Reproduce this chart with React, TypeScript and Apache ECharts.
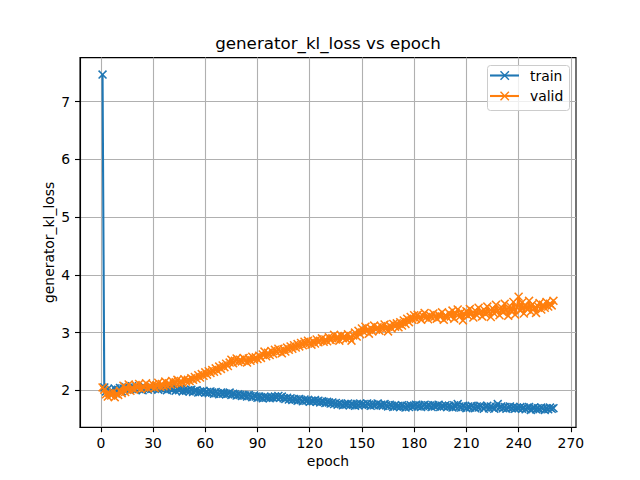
import React, { useEffect, useRef } from "react";
import * as echarts from "echarts";

const trainLoss: number[] = [
  7.47, 2.05, 1.98, 2.02, 1.96, 2.00, 1.94, 2.03, 1.99, 2.01,
  2.04, 1.98, 2.03, 2.06, 2.01, 2.05, 2.02, 2.07, 2.03, 2.01,
  2.05, 2.02, 2.04, 2.00, 2.06, 2.03, 2.01, 2.05, 2.02, 2.04,
  2.03, 2.06, 2.01, 2.04, 2.02, 2.05, 2.03, 2.00, 2.04, 2.02,
  2.01, 2.03, 1.99, 2.02, 2.00, 2.03, 1.98, 2.01, 1.99, 2.00,
  1.98, 2.01, 1.97, 1.99, 2.00, 1.96, 1.98, 1.97, 1.99, 1.96,
  1.97, 1.95, 1.98, 1.96, 1.94, 1.97, 1.95, 1.93, 1.96, 1.94,
  1.95, 1.93, 1.94, 1.96, 1.92, 1.94, 1.93, 1.91, 1.93, 1.92,
  1.90, 1.92, 1.91, 1.89, 1.92, 1.90, 1.88, 1.91, 1.89, 1.87,
  1.89, 1.88, 1.86, 1.89, 1.87, 1.88, 1.86, 1.88, 1.87, 1.89,
  1.88, 1.90, 1.87, 1.89, 1.86, 1.85, 1.87, 1.84, 1.86, 1.83,
  1.85, 1.84, 1.82, 1.85, 1.83, 1.81, 1.84, 1.82, 1.83, 1.80,
  1.82, 1.81, 1.83, 1.80, 1.82, 1.79, 1.81, 1.80, 1.78, 1.80,
  1.79, 1.77, 1.79, 1.76, 1.78, 1.75, 1.77, 1.76, 1.74, 1.76,
  1.75, 1.77, 1.74, 1.76, 1.75, 1.73, 1.76, 1.74, 1.77, 1.75,
  1.76, 1.74, 1.77, 1.75, 1.73, 1.76, 1.74, 1.75, 1.77, 1.74,
  1.75, 1.73, 1.76, 1.74, 1.72, 1.75, 1.73, 1.71, 1.74, 1.72,
  1.73, 1.71, 1.74, 1.72, 1.70, 1.73, 1.71, 1.74, 1.72, 1.73,
  1.75, 1.72, 1.74, 1.71, 1.73, 1.75, 1.72, 1.74, 1.73, 1.71,
  1.74, 1.72, 1.73, 1.75, 1.71, 1.73, 1.72, 1.74, 1.71, 1.73,
  1.72, 1.70, 1.74, 1.71, 1.76, 1.72, 1.70, 1.73, 1.71, 1.69,
  1.72, 1.70, 1.73, 1.71, 1.69, 1.72, 1.70, 1.73, 1.71, 1.68,
  1.71, 1.73, 1.69, 1.72, 1.70, 1.68, 1.71, 1.76, 1.70, 1.72,
  1.69, 1.71, 1.68, 1.70, 1.72, 1.69, 1.71, 1.68, 1.70, 1.69,
  1.71, 1.68, 1.70, 1.67, 1.69, 1.71, 1.66, 1.69, 1.70, 1.67,
  1.69, 1.67, 1.70, 1.68, 1.66, 1.69, 1.67, 1.70, 1.68, 1.69,
];

const validLoss: number[] = [
  2.05, 2.01, 1.93, 1.89, 1.95, 1.91, 1.97, 1.88, 1.94, 1.92,
  1.99, 1.95, 2.08, 1.97, 2.03, 2.10, 1.99, 2.05, 2.01, 2.09,
  2.04, 2.11, 2.02, 2.07, 2.05, 2.12, 2.03, 2.08, 2.06, 2.10,
  2.04, 2.09, 2.13, 2.06, 2.11, 2.07, 2.15, 2.08, 2.12, 2.10,
  2.16, 2.11, 2.14, 2.18, 2.12, 2.16, 2.13, 2.19, 2.15, 2.18,
  2.16, 2.21, 2.18, 2.23, 2.20, 2.26, 2.22, 2.28, 2.25, 2.31,
  2.27, 2.33, 2.30, 2.35, 2.32, 2.38, 2.34, 2.41, 2.37, 2.43,
  2.40, 2.46, 2.42, 2.48, 2.53, 2.47, 2.51, 2.55, 2.49, 2.53,
  2.50, 2.56, 2.52, 2.48, 2.55, 2.51, 2.58, 2.53, 2.57, 2.54,
  2.60, 2.56, 2.62, 2.67, 2.59, 2.65, 2.61, 2.68, 2.63, 2.70,
  2.66, 2.72, 2.68, 2.64, 2.71, 2.67, 2.74, 2.70, 2.76, 2.72,
  2.78, 2.74, 2.80, 2.76, 2.82, 2.78, 2.84, 2.80, 2.86, 2.82,
  2.79, 2.85, 2.81, 2.88, 2.83, 2.86, 2.90, 2.84, 2.88, 2.85,
  2.92, 2.87, 2.90, 2.96, 2.88, 2.93, 2.86, 2.95, 2.90, 2.94,
  2.89, 2.97, 2.91, 2.86, 2.95, 3.00, 2.93, 3.03, 2.97, 3.07,
  3.01, 3.10, 3.04, 2.98, 3.08, 3.02, 3.12, 3.05, 3.09, 3.03,
  3.11, 3.06, 3.14, 3.08, 3.02, 3.12, 3.07, 3.15, 3.10, 3.16,
  3.09, 3.18, 3.12, 3.21, 3.15, 3.24, 3.18, 3.27, 3.22, 3.30,
  3.24, 3.31, 3.26, 3.22, 3.29, 3.34, 3.27, 3.23, 3.30, 3.26,
  3.33, 3.28, 3.24, 3.31, 3.27, 3.35, 3.22, 3.30, 3.26, 3.34,
  3.28, 3.38, 3.24, 3.33, 3.40, 3.27, 3.35, 3.21, 3.32, 3.37,
  3.29, 3.41, 3.33, 3.26, 3.38, 3.30, 3.43, 3.35, 3.28, 3.40,
  3.32, 3.45, 3.36, 3.27, 3.42, 3.33, 3.48, 3.38, 3.30, 3.44,
  3.35, 3.50, 3.39, 3.29, 3.46, 3.36, 3.53, 3.31, 3.44, 3.62,
  3.38, 3.52, 3.33, 3.47, 3.40, 3.55, 3.36, 3.49, 3.42, 3.34,
  3.46, 3.51, 3.40, 3.48, 3.43, 3.53, 3.45, 3.50, 3.47, 3.55,
];

const firstEpoch = 1;
const xTicks: number[] = [0, 30, 60, 90, 120, 150, 180, 210, 240, 270];
const yTicks: number[] = [2, 3, 4, 5, 6, 7];
const seriesNames: string[] = ["train", "valid"];
const seriesColors: string[] = ["#1f77b4", "#ff7f0e"];

const X_MARK =
  "path://M0,1.2 L1.2,0 L5,3.8 L8.8,0 L10,1.2 L6.2,5 L10,8.8 L8.8,10 L5,6.2 L1.2,10 L0,8.8 L3.8,5 Z";

const FONT = "DejaVu Sans";

export default function App() {
  const ref = useRef<HTMLDivElement>(null);

  useEffect(() => {
    if (!ref.current) return;
    const chart = echarts.init(ref.current, undefined, { renderer: "svg" });

    const toPairs = (arr: number[]) => arr.map((v, i) => [i + firstEpoch, v]);
    const allSeries = [trainLoss, validLoss];

    const legendItems: any[] = [];
    legendItems.push({
      type: "rect",
      shape: { x: 487.5, y: 65.5, width: 82, height: 45, r: 3 },
      style: { fill: "rgba(255,255,255,0.8)", stroke: "#cccccc", lineWidth: 1 },
      z: 100,
    });
    seriesNames.forEach((name, i) => {
      const cy = 75.5 + i * 20.5;
      legendItems.push({
        type: "line",
        shape: { x1: 490, y1: cy, x2: 519, y2: cy },
        style: { stroke: seriesColors[i], lineWidth: 2.1 },
        z: 101,
      });
      legendItems.push({
        type: "line",
        shape: { x1: 500.5, y1: cy - 4.2, x2: 508.9, y2: cy + 4.2 },
        style: { stroke: seriesColors[i], lineWidth: 1.4 },
        z: 102,
      });
      legendItems.push({
        type: "line",
        shape: { x1: 500.5, y1: cy + 4.2, x2: 508.9, y2: cy - 4.2 },
        style: { stroke: seriesColors[i], lineWidth: 1.4 },
        z: 102,
      });
      legendItems.push({
        type: "text",
        x: 530,
        y: cy,
        style: {
          text: name,
          fill: "#000",
          font: `13.9px "${FONT}"`,
          textVerticalAlign: "middle",
          verticalAlign: "middle",
        },
        z: 102,
      });
    });

    chart.setOption({
      animation: false,
      backgroundColor: "#ffffff",
      textStyle: { fontFamily: FONT },
      title: {
        text: "generator_kl_loss vs epoch",
        left: 328,
        top: 34,
        textAlign: "center",
        padding: 0,
        textStyle: { fontFamily: FONT, fontSize: 16.7, fontWeight: "normal", color: "#000" },
      },
      grid: {
        left: 80,
        right: 64,
        top: 57.6,
        bottom: 52.8,
        show: true,
        borderColor: "#000",
        borderWidth: 1.1,
        backgroundColor: "transparent",
      },
      xAxis: {
        type: "value",
        min: -11.95,
        max: 272.95,
        name: "epoch",
        nameLocation: "middle",
        nameGap: 27,
        nameMoveOverlap: false,
        nameTextStyle: { fontFamily: FONT, fontSize: 13.9, color: "#000" },
        axisLine: { show: true, onZero: false, lineStyle: { color: "#000", width: 1.1 } },
        axisTick: {
          show: true,
          inside: false,
          length: 5,
          customValues: xTicks,
          lineStyle: { color: "#000", width: 1.1 },
        },
        axisLabel: {
          customValues: xTicks,
          color: "#000",
          fontFamily: FONT,
          fontSize: 13.9,
          margin: 9,
          showMinLabel: true,
          showMaxLabel: true,
        },
        splitLine: { show: true, lineStyle: { color: "#b0b0b0", width: 1.1 } },
      },
      yAxis: {
        type: "value",
        min: 1.36,
        max: 7.764,
        name: "generator_kl_loss",
        nameLocation: "middle",
        nameGap: 24,
        nameRotate: 90,
        nameMoveOverlap: false,
        nameTextStyle: { fontFamily: FONT, fontSize: 13.9, color: "#000" },
        axisLine: { show: true, onZero: false, lineStyle: { color: "#000", width: 1.1 } },
        axisTick: {
          show: true,
          inside: false,
          length: 5,
          customValues: yTicks,
          lineStyle: { color: "#000", width: 1.1 },
        },
        axisLabel: {
          customValues: yTicks,
          color: "#000",
          fontFamily: FONT,
          fontSize: 13.9,
          margin: 10,
        },
        splitLine: { show: true, lineStyle: { color: "#b0b0b0", width: 1.1 } },
      },
      series: allSeries.map((arr, i) => ({
        name: seriesNames[i],
        type: "line",
        data: toPairs(arr),
        symbol: X_MARK,
        symbolSize: 9,
        symbolKeepAspect: true,
        showAllSymbol: true,
        color: seriesColors[i],
        itemStyle: { color: seriesColors[i] },
        lineStyle: { color: seriesColors[i], width: 2.1 },
        emphasis: { disabled: true },
        z: 3 + i,
      })),
      graphic: legendItems,
    });

    return () => {
      chart.dispose();
    };
  }, []);

  return (
    <div
      ref={ref}
      style={{ position: "fixed", left: 0, top: 0, width: 640, height: 480, background: "#fff" }}
    />
  );
}
